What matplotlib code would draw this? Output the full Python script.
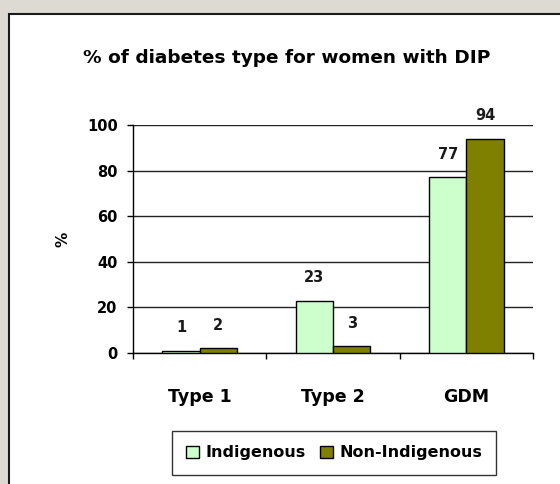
import matplotlib
matplotlib.use("Agg")
import matplotlib.pyplot as plt
from matplotlib.patches import Rectangle
import numpy as np

categories = ["Type 1", "Type 2", "GDM"]
indigenous = [1, 23, 77]
non_indigenous = [2, 3, 94]
series_names = ["Indigenous", "Non-Indigenous"]
y_ticks = [0, 20, 40, 60, 80, 100]

plt.rcParams['font.family'] = ['DejaVu Sans']
plt.rcParams['font.weight'] = 'bold'

fig = plt.figure(figsize=(5.6, 4.84), dpi=100)
fig.patch.set_facecolor('#dcdad3')
# white slide panel with dark border
fig.patches.append(Rectangle((9 / 560, -0.1), 1.2, 1 - 14 / 484 + 0.1,
                             transform=fig.transFigure, facecolor='white',
                             edgecolor='#1a1a1a', linewidth=1.5, zorder=-10))

ax = fig.add_axes([133 / 560, 1 - 353 / 484, 400 / 560, 228 / 484])
ax.set_facecolor('none')

x = np.arange(len(categories))
w = 0.28
b1 = ax.bar(x - w / 2, indigenous, w, color='#ccffcc', edgecolor='black', linewidth=1, label=series_names[0], zorder=3)
b2 = ax.bar(x + w / 2, non_indigenous, w, color='#808000', edgecolor='black', linewidth=1, label=series_names[1], zorder=3)

for bars, vals in [(b1, indigenous), (b2, non_indigenous)]:
    for r, v in zip(bars, vals):
        ax.annotate(str(v), (r.get_x() + r.get_width() / 2, v), xytext=(0, 11),
                    textcoords='offset points', ha='center', va='bottom',
                    fontsize=10.5, fontweight='bold', color='#1a1a1a')

ax.set_xlim(-0.5, 2.5)
ax.set_ylim(0, 100)
ax.set_yticks(y_ticks)
ax.yaxis.grid(True, color='#222222', linewidth=1)
ax.set_axisbelow(True)
ax.tick_params(axis='y', direction='out', length=4, width=1, pad=7, labelsize=10.5)
ax.set_xticks(x)
ax.set_xticklabels(categories, fontsize=12.5, fontweight='bold')
ax.set_xticks([-0.5, 0.5, 1.5, 2.5], minor=True)
ax.tick_params(axis='x', which='major', length=0, pad=25)
ax.tick_params(axis='x', which='minor', direction='out', length=4, width=1)
for s in ['top', 'right']:
    ax.spines[s].set_visible(False)
ax.spines['left'].set_linewidth(1)
ax.spines['bottom'].set_linewidth(1)
ax.set_ylabel('%', fontsize=11, fontweight='bold', labelpad=12)

fig.text(0.512, 1 - 58 / 484, '% of diabetes type for women with DIP',
         ha='center', va='center', fontsize=13.3, fontweight='bold')

leg = fig.legend(handles=[b1, b2], loc='center', bbox_to_anchor=(334 / 560, 1 - 453 / 484),
                 ncol=2, frameon=True, fancybox=False, edgecolor='black',
                 fontsize=11.5, handlelength=0.8, handleheight=0.8, handletextpad=0.4,
                 columnspacing=0.9, borderpad=0.9)
leg.get_frame().set_linewidth(1)
for t in leg.get_texts():
    t.set_fontweight('bold')

fig.savefig('out.png', dpi=100, facecolor=fig.get_facecolor())
